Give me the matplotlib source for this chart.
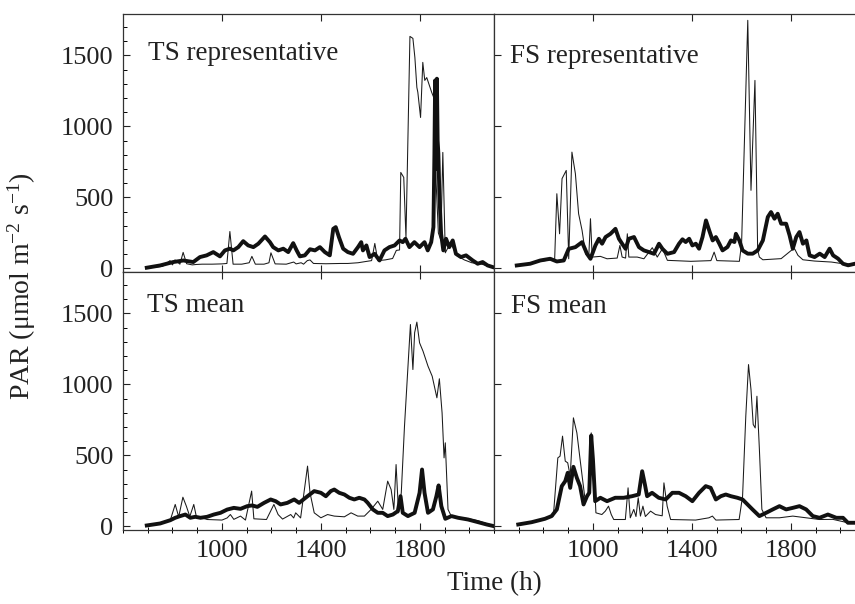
import matplotlib
matplotlib.use('agg')
import matplotlib.pyplot as plt
import matplotlib.ticker as ticker

plt.rcParams['font.family'] = ['Liberation Serif', 'DejaVu Serif']
plt.rcParams['mathtext.fontset'] = 'custom'
plt.rcParams['mathtext.rm'] = 'Liberation Serif'
plt.rcParams['mathtext.it'] = 'Liberation Serif:italic'

# ---- TS representative ----
ts_rep_thin_t = [700, 760, 790, 800, 810, 830, 843, 857, 880, 897, 920, 960, 1000, 1020, 1032, 1045,
                 1080, 1110, 1121, 1135, 1170, 1190, 1198, 1215, 1260, 1290, 1300, 1320, 1330, 1345,
                 1356, 1370, 1420, 1480, 1509, 1550, 1586, 1605, 1618, 1630, 1660, 1690, 1705, 1718,
                 1723, 1735, 1744, 1760, 1772, 1780, 1788, 1792, 1803, 1812, 1820, 1828, 1848, 1861,
                 1866, 1875, 1885, 1893, 1903, 1915, 1930, 1950, 1980, 2010, 2050, 2100]
ts_rep_thin_v = [3, 15, 55, 25, 60, 30, 113, 33, 25, 28, 30, 30, 32, 35, 260, 30,
                 30, 40, 85, 30, 30, 40, 110, 32, 30, 45, 32, 40, 30, 55,
                 60, 35, 33, 35, 35, 40, 50, 55, 176, 55, 60, 70, 127, 130,
                 676, 641, 218, 1634, 1620, 1486, 1275, 1240, 1063, 1451, 1324, 1344, 1240, 1183,
                 600, 250, 200, 817, 110, 150, 160, 90, 60, 40, 30, 5]
ts_rep_thick_t = [696, 750, 803, 844, 884, 911, 938, 965, 992, 1012, 1032, 1046, 1066, 1086, 1106,
                  1127, 1147, 1174, 1194, 1207, 1228, 1248, 1268, 1288, 1302, 1315, 1335, 1356, 1376,
                  1396, 1416, 1436, 1450, 1460, 1473, 1490, 1509, 1530, 1550, 1563, 1570, 1584, 1597,
                  1617, 1637, 1657, 1677, 1698, 1718, 1731, 1742, 1758, 1778, 1799, 1819, 1832, 1846,
                  1855, 1859, 1862, 1865, 1869, 1872, 1875, 1879, 1886, 1895, 1906, 1919, 1933, 1946,
                  1966, 1987, 2014, 2034, 2054, 2074, 2094]
ts_rep_thick_v = [5, 21, 45, 56, 45, 80, 92, 115, 85, 127, 139, 127, 150, 192, 162,
                  150, 174, 225, 185, 150, 127, 139, 115, 178, 127, 85, 92, 135, 127,
                  150, 115, 92, 279, 291, 220, 139, 115, 103, 150, 185, 127, 162, 80,
                  103, 56, 127, 150, 162, 197, 185, 209, 150, 185, 150, 185, 127, 185,
                  291, 800, 1324, 700, 1336, 900, 808, 526, 244, 127, 209, 150, 197, 103,
                  80, 92, 56, 33, 45, 21, 10]

# ---- FS representative ----
fs_rep_thin_t = [692, 746, 787, 827, 845, 854, 865, 875, 892, 902, 915, 929, 942, 956, 970, 983,
                 990, 997, 1030, 1057, 1098, 1109, 1118, 1132, 1139, 1145, 1179, 1206, 1240, 1260,
                 1281, 1301, 1396, 1477, 1490, 1501, 1592, 1601, 1626, 1639, 1655, 1666, 1673, 1687,
                 1761, 1802, 1815, 1829, 1849, 1896, 1964, 2011, 2059, 2100]
fs_rep_thin_v = [21, 33, 50, 60, 55, 526, 244, 632, 690, 68, 819, 667, 385, 268, 104, 80,
                 350, 80, 85, 68, 73, 162, 80, 73, 244, 80, 80, 68, 146, 80,
                 139, 57, 50, 55, 115, 55, 50, 174, 1747, 550, 1324, 127, 80, 61,
                 69, 127, 139, 92, 61, 52, 45, 33, 30, 30]
fs_rep_thick_t = [692, 746, 787, 827, 854, 882, 902, 929, 956, 976, 990, 1010, 1024, 1037, 1051,
                  1071, 1091, 1105, 1118, 1132, 1145, 1166, 1186, 1206, 1227, 1247, 1267, 1281, 1301,
                  1328, 1348, 1362, 1375, 1389, 1402, 1416, 1429, 1443, 1457, 1470, 1484, 1497, 1511,
                  1524, 1544, 1558, 1572, 1578, 1592, 1605, 1626, 1646, 1666, 1687, 1707, 1720, 1734,
                  1747, 1761, 1781, 1795, 1808, 1822, 1835, 1849, 1863, 1876, 1896, 1917, 1937, 1957,
                  1971, 1991, 2011, 2032, 2059, 2100]
fs_rep_thick_v = [21, 33, 56, 68, 49, 56, 138, 150, 185, 103, 68, 162, 209, 174, 221,
                  244, 279, 209, 174, 138, 209, 221, 150, 127, 115, 103, 174, 138, 103,
                  115, 174, 205, 186, 209, 162, 174, 139, 221, 338, 268, 197, 221, 174,
                  127, 151, 197, 186, 244, 197, 127, 104, 104, 127, 197, 362, 397, 350,
                  385, 315, 315, 233, 139, 221, 256, 174, 197, 92, 80, 104, 80, 139,
                  92, 69, 33, 22, 33, 25]

# ---- TS mean ----
ts_mean_thin_t = [696, 750, 791, 811, 825, 842, 856, 870, 886, 897, 919, 940, 1000, 1021, 1034, 1048,
                  1075, 1095, 1120, 1129, 1180, 1210, 1227, 1245, 1278, 1290, 1298, 1318, 1346, 1356,
                  1373, 1400, 1427, 1454, 1495, 1522, 1549, 1576, 1603, 1630, 1650, 1670, 1684, 1695,
                  1704, 1714, 1725, 1738, 1749, 1762, 1772, 1779, 1788, 1799, 1813, 1833, 1850, 1869,
                  1879, 1890, 1898, 1903, 1914, 1928, 1955, 1995, 2036, 2070, 2100]
ts_mean_thin_v = [7, 21, 44, 155, 68, 206, 143, 70, 155, 65, 61, 49, 45, 60, 84, 50,
                  73, 45, 249, 54, 49, 155, 84, 52, 84, 60, 96, 60, 425, 237,
                  96, 61, 84, 73, 68, 96, 73, 73, 120, 178, 120, 319, 260, 120,
                  436, 96, 237, 706, 1035, 1422, 1105, 1364, 1439, 1293, 1234, 1129, 1058, 906,
                  1040, 800, 483, 589, 120, 70, 65, 55, 40, 20, 5]
ts_mean_thick_t = [696, 750, 791, 811, 831, 852, 872, 892, 913, 940, 967, 994, 1021, 1048, 1075,
                   1102, 1122, 1143, 1170, 1197, 1217, 1237, 1264, 1292, 1312, 1346, 1373, 1400, 1420,
                   1440, 1454, 1474, 1495, 1515, 1535, 1555, 1576, 1589, 1610, 1630, 1650, 1670, 1691,
                   1711, 1722, 1731, 1752, 1779, 1799, 1809, 1819, 1833, 1853, 1867, 1876, 1887, 1903,
                   1928, 1955, 1995, 2036, 2070, 2100]
ts_mean_thick_v = [7, 21, 44, 61, 73, 84, 61, 68, 61, 68, 84, 96, 119, 131, 124,
                   143, 148, 138, 166, 190, 178, 155, 166, 190, 166, 213, 249, 237, 213,
                   249, 260, 237, 225, 202, 190, 202, 190, 167, 120, 96, 96, 73, 84,
                   108, 213, 96, 73, 96, 237, 401, 237, 96, 120, 213, 289, 143, 54,
                   73, 61, 49, 30, 14, 2]

# ---- FS mean ----
fs_mean_thin_t = [698, 752, 806, 840, 858, 867, 877, 888, 898, 908, 921, 935, 948, 958, 969, 985,
                  993, 1003, 1012, 1036, 1050, 1063, 1074, 1084, 1131, 1142, 1151, 1165, 1174, 1183,
                  1192, 1202, 1212, 1233, 1253, 1280, 1287, 1300, 1314, 1415, 1469, 1483, 1497, 1591,
                  1605, 1618, 1629, 1639, 1648, 1656, 1663, 1673, 1683, 1700, 1754, 1808, 1862, 1916,
                  1970, 2031, 2065, 2100]
fs_mean_thin_v = [14, 30, 54, 75, 483, 495, 636, 460, 448, 354, 765, 659, 472, 331, 178, 237,
                  659, 436, 96, 84, 108, 143, 84, 49, 49, 272, 61, 120, 70, 202,
                  73, 143, 70, 108, 84, 75, 307, 143, 49, 45, 61, 73, 45, 49,
                  213, 777, 1140, 964, 718, 694, 917, 542, 120, 61, 61, 73, 61, 49,
                  50, 26, 26, 20]
fs_mean_thick_t = [698, 752, 806, 833, 854, 874, 888, 898, 908, 921, 935, 948, 962, 976, 985,
                   993, 1000, 1009, 1030, 1057, 1090, 1124, 1158, 1185, 1199, 1210, 1219, 1239, 1266,
                   1294, 1321, 1348, 1375, 1402, 1429, 1456, 1476, 1497, 1517, 1537, 1558, 1584, 1605,
                   1625, 1645, 1673, 1700, 1727, 1754, 1781, 1808, 1835, 1862, 1889, 1916, 1950, 1984,
                   2011, 2031, 2065, 2100]
fs_mean_thick_v = [14, 30, 54, 73, 120, 284, 319, 378, 272, 420, 342, 284, 155, 213, 237,
                   640, 472, 178, 202, 178, 202, 202, 213, 225, 389, 296, 213, 237, 202,
                   190, 237, 237, 213, 178, 237, 284, 272, 190, 213, 225, 213, 202, 190,
                   155, 120, 73, 96, 120, 143, 120, 131, 143, 120, 73, 61, 84, 61,
                   61, 26, 26, 20]

panels = [
    {'title': 'TS representative', 'pos': [0.1439, 0.5497], 'tx': 0.067, 'ty': 0.822,
     'thin': (ts_rep_thin_t, ts_rep_thin_v), 'thick': (ts_rep_thick_t, ts_rep_thick_v)},
    {'title': 'FS representative', 'pos': [0.5778, 0.5497], 'tx': 0.043, 'ty': 0.81,
     'thin': (fs_rep_thin_t, fs_rep_thin_v), 'thick': (fs_rep_thick_t, fs_rep_thick_v)},
    {'title': 'TS mean', 'pos': [0.1439, 0.1225], 'tx': 0.065, 'ty': 0.845,
     'thin': (ts_mean_thin_t, ts_mean_thin_v), 'thick': (ts_mean_thick_t, ts_mean_thick_v)},
    {'title': 'FS mean', 'pos': [0.5778, 0.1225], 'tx': 0.046, 'ty': 0.841,
     'thin': (fs_mean_thin_t, fs_mean_thin_v), 'thick': (fs_mean_thick_t, fs_mean_thick_v)},
]

fig = plt.figure(figsize=(8.55, 6.04), dpi=100)
W, H = 0.4339, 0.4272

for i, p in enumerate(panels):
    ax = fig.add_axes([p['pos'][0], p['pos'][1], W, H])
    ax.plot(p['thin'][0], p['thin'][1], color='#1a1a1a', lw=0.75, zorder=2)
    ax.plot(p['thick'][0], p['thick'][1], color='#111111', lw=2.8, zorder=3,
            solid_joinstyle='round')
    ax.set_xlim(600, 2100)
    ax.set_ylim(-25, 1792)
    ax.text(p['tx'], p['ty'], p['title'], transform=ax.transAxes, fontsize=19.5,
            va='baseline', ha='left', color='#222222')

    ax.xaxis.set_major_locator(ticker.FixedLocator([1000, 1400, 1800]))
    ax.yaxis.set_major_locator(ticker.FixedLocator([0, 500, 1000, 1500]))
    bottom_row = i >= 2
    left_col = i % 2 == 0
    ax.tick_params(axis='both', which='major', direction='in', length=5, width=0.8,
                   top=True, bottom=True, left=True, right=False,
                   labelsize=19, colors='#222222', pad=7)
    ax.tick_params(axis='x', labelbottom=bottom_row)
    ax.tick_params(axis='y', labelleft=left_col)
    if bottom_row:
        ax.xaxis.set_minor_locator(ticker.MultipleLocator(100))
        ax.tick_params(axis='x', which='minor', direction='inout', length=4, width=0.7,
                       top=False, bottom=True)
    if left_col:
        ax.yaxis.set_minor_locator(ticker.MultipleLocator(100))
        ax.tick_params(axis='y', which='minor', direction='in', length=3, width=0.7,
                       left=True, right=False)
    for s in ax.spines.values():
        s.set_linewidth(0.9)
        s.set_color('#333333')

fig.text(22 / 855, 1 - 286 / 604, 'PAR (μmol m$^{-2}$ s$^{-1}$)', rotation=90,
         ha='center', va='center', fontsize=20, color='#222222')
fig.text(494 / 855, 1 - 584 / 604, 'Time (h)', ha='center', va='center',
         fontsize=19.5, color='#222222')

plt.savefig('out.png', dpi=100)
